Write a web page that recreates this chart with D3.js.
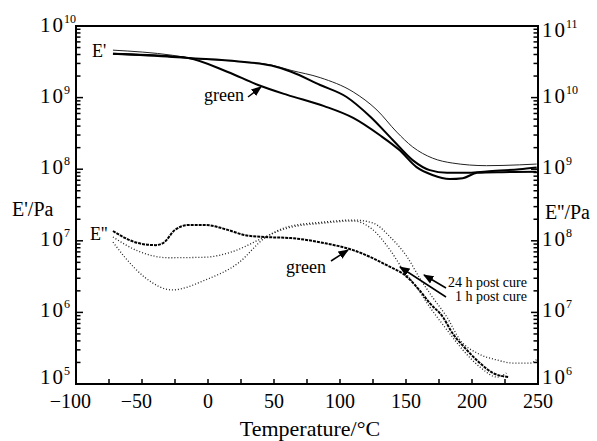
<!DOCTYPE html>
<html>
<head>
<meta charset="utf-8">
<script src="https://cdn.jsdelivr.net/npm/d3@7"></script>
<style>
  body { margin: 0; background: #fff; }
  text { font-family: "Liberation Serif", "Times New Roman", serif; fill: #000; }
</style>
</head>
<body>
<svg id="target"></svg>
<script>
// Temperature (°C) / modulus (Pa)
let tStorage24 = [-72, -27, -15, 23, 48, 63, 85, 110, 128, 143, 155, 170, 185, 211, 236, 249];
let eStorage24 = [4.6e9, 3.9e9, 3.6e9, 3.2e9, 2.85e9, 2.4e9, 1.9e9, 1.2e9, 6.7e8, 3.3e8, 2.05e8, 1.43e8, 1.22e8, 1.12e8, 1.15e8, 1.18e8];

let tStorage1 = [-72, -27, -15, 23, 48, 63, 85, 105, 123, 140, 155, 168, 181, 198, 211, 236, 249];
let eStorage1 = [4.1e9, 3.7e9, 3.57e9, 3.2e9, 2.8e9, 2.3e9, 1.5e9, 1.02e9, 5.4e8, 2.56e8, 1.34e8, 9.7e7, 8.9e7, 8.9e7, 9.3e7, 1.0e8, 1.06e8];

let tStorageGreen = [-72, -27, -15, 15, 38, 60, 88, 110, 130, 145, 158, 170, 183, 193, 204, 223, 249];
let eStorageGreen = [4.1e9, 3.75e9, 3.57e9, 2.28e9, 1.5e9, 1.09e9, 7.6e8, 5.2e8, 3.0e8, 1.85e8, 1.07e8, 8.3e7, 7.3e7, 7.5e7, 8.9e7, 9.1e7, 9.2e7];

let tLoss24 = [-72, -53, -30, -2, 18, 43, 60, 88, 110, 125, 138, 151, 160, 170, 181, 191, 204, 219, 231, 244, 249];
let eLoss24 = [1.13e8, 7.2e7, 5.8e7, 5.9e7, 7.0e7, 1.13e8, 1.56e8, 1.83e8, 1.95e8, 1.77e8, 1.13e8, 5.9e7, 3.1e7, 1.64e7, 8.6e6, 4.1e6, 2.7e6, 2.16e6, 1.96e6, 1.96e6, 2.2e6];

let tLoss1 = [-72, -63, -48, -27, -2, 23, 43, 60, 88, 110, 125, 138, 148, 158, 168, 181, 193, 206, 219, 226];
let eLoss1 = [9.6e7, 5.9e7, 3.1e7, 2.06e7, 2.84e7, 4.9e7, 1.09e8, 1.5e8, 1.77e8, 1.89e8, 1.42e8, 7.4e7, 3.9e7, 2.26e7, 1.19e7, 5.7e6, 3.0e6, 1.73e6, 1.25e6, 1.42e6];

let tLossGreen = [-72, -63, -53, -40, -34, -25, -15, -2, 15, 28, 43, 63, 88, 110, 135, 151, 160, 168, 178, 185, 196, 206, 216, 228];
let eLossGreen = [1.37e8, 1.1e8, 9.3e7, 8.7e7, 9.3e7, 1.42e8, 1.66e8, 1.66e8, 1.42e8, 1.2e8, 1.13e8, 1.09e8, 9.3e7, 7.4e7, 4.6e7, 3.1e7, 2.06e7, 1.35e7, 8.6e6, 5.2e6, 3.0e6, 1.96e6, 1.42e6, 1.25e6];

let xTicks = [-100, -75, -50, -25, 0, 25, 50, 75, 100, 125, 150, 175, 200, 225, 250];
let xLabels = [-100, -50, 0, 50, 100, 150, 200, 250];
let leftExps = [5, 6, 7, 8, 9, 10];
let rightExps = [6, 7, 8, 9, 10, 11];

let margin = {top: 26, right: 59, bottom: 57, left: 76},
    width = 597 - margin.left - margin.right,
    height = 441 - margin.top - margin.bottom;

function zip(ts, vs) { return ts.map((t, i) => [t, vs[i]]); }

function main() {
    let svg = d3.select("#target")
        .attr("width", 597)
        .attr("height", 441);
    let g = svg.append("g")
        .attr("transform", "translate(" + margin.left + "," + margin.top + ")");

    let x = d3.scaleLinear().domain([-100, 250]).range([0, width]);
    let yL = d3.scaleLog().domain([1e5, 1e10]).range([height, 0]);
    let yR = d3.scaleLog().domain([1e6, 1e11]).range([height, 0]);

    // Minor + major log ticks, drawn inward
    function logTicks(lo, hi) {
        let out = [];
        for (let e = lo; e < hi; e++)
            for (let m = 1; m < 10; m++) out.push({v: m * Math.pow(10, e), major: m === 1});
        out.push({v: Math.pow(10, hi), major: true});
        return out;
    }
    g.append("g").selectAll("line")
        .data(logTicks(5, 10))
        .enter().append("line")
        .attr("x1", 0).attr("x2", d => d.major ? 7 : 4.5)
        .attr("y1", d => yL(d.v)).attr("y2", d => yL(d.v))
        .attr("stroke", "#000").attr("stroke-width", 1.5);
    g.append("g").selectAll("line")
        .data(logTicks(6, 11))
        .enter().append("line")
        .attr("x1", width).attr("x2", d => width - (d.major ? 7 : 4.5))
        .attr("y1", d => yR(d.v)).attr("y2", d => yR(d.v))
        .attr("stroke", "#000").attr("stroke-width", 1.5);
    g.append("g").selectAll("line")
        .data(xTicks)
        .enter().append("line")
        .attr("x1", d => x(d)).attr("x2", d => x(d))
        .attr("y1", height).attr("y2", height - 5)
        .attr("stroke", "#000").attr("stroke-width", 1.5);

    // Frame
    g.append("rect")
        .attr("width", width).attr("height", height)
        .attr("fill", "none").attr("stroke", "#000").attr("stroke-width", 2);

    // Tick labels (end labels nudged inward as in the figure)
    let leftOff = {5: 0, 10: 6};
    let rightOff = {6: 0, 11: 11};
    let lt = svg.append("g").selectAll("text")
        .data(leftExps).enter().append("text")
        .attr("x", 40).attr("y", d => margin.top + yL(Math.pow(10, d)) + (leftOff[d] !== undefined ? leftOff[d] : 5))
        .style("font-size", "21px");
    lt.append("tspan").text("1");
    lt.append("tspan").attr("dx", 2).text("0");
    lt.append("tspan").attr("dx", 1).attr("dy", -9).style("font-size", "12px").text(d => d);

    let rt = svg.append("g").selectAll("text")
        .data(rightExps).enter().append("text")
        .attr("x", 542).attr("y", d => margin.top + yR(Math.pow(10, d)) + (rightOff[d] !== undefined ? rightOff[d] : 5))
        .style("font-size", "21px");
    rt.append("tspan").text("1");
    rt.append("tspan").attr("dx", 2).text("0");
    rt.append("tspan").attr("dx", 1).attr("dy", -9).style("font-size", "12px").text(d => d);

    // x labels: digits centred on the tick, minus hanging to the left
    let xl = svg.append("g").selectAll("g")
        .data(xLabels).enter().append("g")
        .attr("transform", d => "translate(" + (margin.left + x(d)) + ",408)");
    xl.append("text")
        .attr("text-anchor", "middle")
        .style("font-size", "20px")
        .text(d => Math.abs(d));
    xl.filter(d => d < 0).each(function(d) {
        let grp = d3.select(this);
        let w = grp.select("text").node().getComputedTextLength();
        grp.append("text")
            .attr("x", -w / 2).attr("text-anchor", "end")
            .style("font-size", "20px")
            .text("\u2212");
    });

    // Axis titles
    svg.append("text").attr("x", 12).attr("y", 216)
        .style("font-size", "20px").text("E'/Pa");
    svg.append("text").attr("x", 545).attr("y", 219)
        .style("font-size", "20px").text("E''/Pa");
    svg.append("text").attr("x", 310).attr("y", 436)
        .attr("text-anchor", "middle")
        .style("font-size", "22px").text("Temperature/\u00B0C");

    // Curves
    let lineL = d3.line().x(d => x(d[0])).y(d => yL(d[1])).curve(d3.curveMonotoneX);
    let lineR = d3.line().x(d => x(d[0])).y(d => yR(d[1])).curve(d3.curveMonotoneX);

    g.append("path").datum(zip(tStorage24, eStorage24))
        .attr("d", lineL).attr("fill", "none").attr("stroke", "#222").attr("stroke-width", 1);
    g.append("path").datum(zip(tStorage1, eStorage1))
        .attr("d", lineL).attr("fill", "none").attr("stroke", "#000").attr("stroke-width", 2);
    g.append("path").datum(zip(tStorageGreen, eStorageGreen))
        .attr("d", lineL).attr("fill", "none").attr("stroke", "#000").attr("stroke-width", 2);

    g.append("path").datum(zip(tLoss24, eLoss24))
        .attr("d", lineR).attr("fill", "none").attr("stroke", "#222")
        .attr("stroke-width", 1.3).attr("stroke-dasharray", "1,2");
    g.append("path").datum(zip(tLoss1, eLoss1))
        .attr("d", lineR).attr("fill", "none").attr("stroke", "#222")
        .attr("stroke-width", 1.3).attr("stroke-dasharray", "1,2");
    g.append("path").datum(zip(tLossGreen, eLossGreen))
        .attr("d", lineR).attr("fill", "none").attr("stroke", "#000")
        .attr("stroke-width", 2).attr("stroke-dasharray", "3,1");

    // Annotations
    svg.append("defs").append("marker")
        .attr("id", "arrow").attr("viewBox", "0 0 10 10")
        .attr("refX", 9).attr("refY", 5)
        .attr("markerWidth", 7).attr("markerHeight", 7)
        .attr("orient", "auto")
        .append("path").attr("d", "M0,1 L10,5 L0,9 Z").attr("fill", "#000");

    svg.append("text").attr("x", 92).attr("y", 57).style("font-size", "18px").text("E'");
    svg.append("text").attr("x", 90).attr("y", 240).style("font-size", "18px").text("E''");

    svg.append("text").attr("x", 204).attr("y", 101).style("font-size", "18px").text("green");
    svg.append("text").attr("x", 286).attr("y", 273).style("font-size", "18px").text("green");
    svg.append("text").attr("x", 448).attr("y", 287).style("font-size", "14px").text("24 h post cure");
    svg.append("text").attr("x", 455).attr("y", 301).style("font-size", "14px").text("1 h post cure");

    let arrows = [
        [248, 97, 261, 87],
        [331, 261, 348, 250],
        [446, 288, 424, 275],
        [446, 297, 400, 267]
    ];
    svg.append("g").selectAll("line")
        .data(arrows).enter().append("line")
        .attr("x1", d => d[0]).attr("y1", d => d[1])
        .attr("x2", d => d[2]).attr("y2", d => d[3])
        .attr("stroke", "#000").attr("stroke-width", 1.5)
        .attr("marker-end", "url(#arrow)");
}
main();
</script>
</body>
</html>
